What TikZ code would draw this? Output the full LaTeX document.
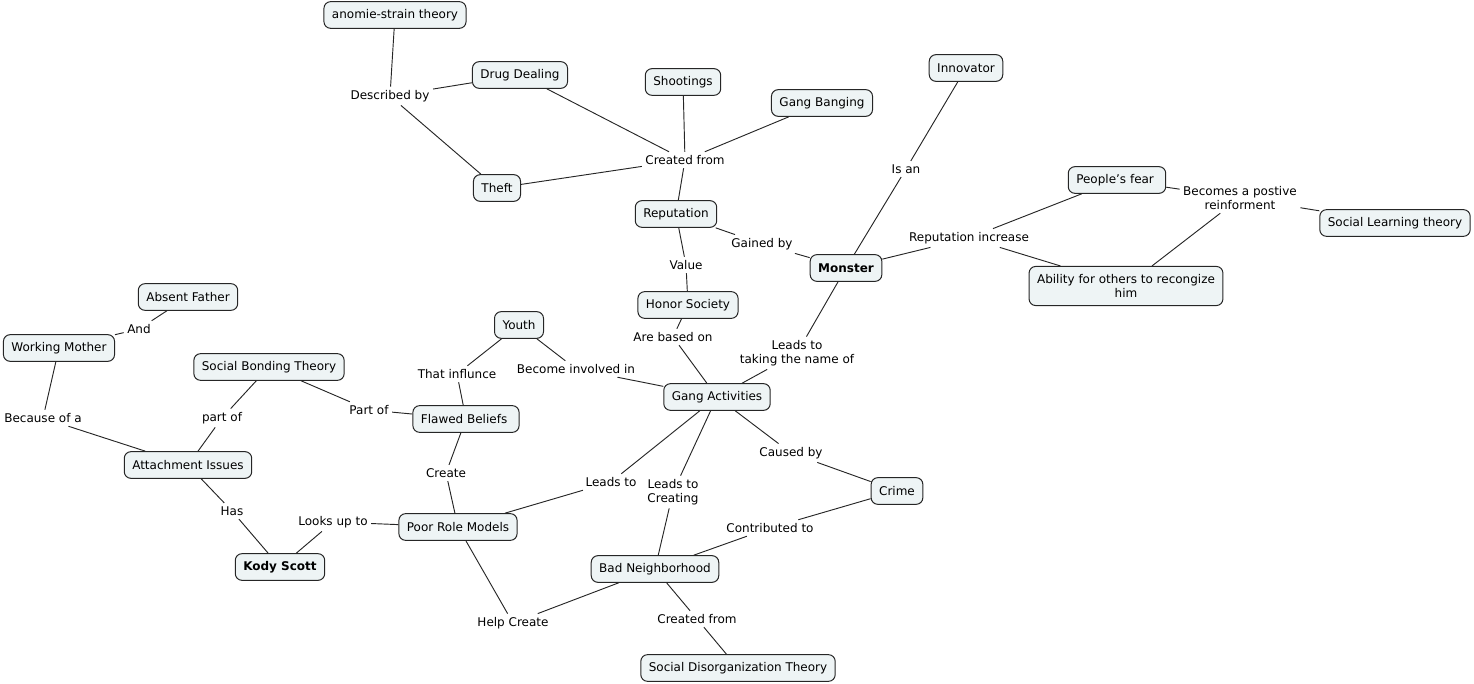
\documentclass[tikz,border=0pt]{standalone}
\usepackage{fontspec}
\setmainfont{DejaVu Sans}
\definecolor{cfill}{RGB}{238,244,245}

\tikzstyle{concept}=[draw=black!85, fill=cfill, rounded corners=5pt, line width=0.75pt, inner xsep=6pt, inner ysep=4.5pt, minimum height=20pt, align=center]
\tikzstyle{phrase}=[inner sep=2.5pt, align=center]
\tikzstyle{link}=[black!85, line width=0.7pt]

\begin{document}
\begin{tikzpicture}[x=0.75pt, y=-0.75pt, font=\fontsize{9}{10.5}\selectfont]
      \useasboundingbox (0,-1) rectangle (1474,683);

      % concepts
      \node[concept] (anomie) at (395, 14) {anomie-strain theory};
      \node[concept] (drug) at (520, 74) {Drug Dealing};
      \node[concept] (shoot) at (683, 81) {Shootings};
      \node[concept] (bang) at (822, 102) {Gang Banging};
      \node[concept] (innov) at (966, 67) {Innovator};
      \node[concept] (theft) at (497, 187) {Theft};
      \node[concept] (rep) at (676, 213) {Reputation};
      \node[concept] (fear) at (1117, 179) {People{\char"0027}s fear\ };
      \node[concept] (slt) at (1395, 222) {Social Learning theory};
      \node[concept, font=\fontsize{9}{10.5}\selectfont\bfseries] (monster) at (846, 267) {Monster};
      \node[concept, inner ysep=6pt] (ability) at (1126, 285) {Ability for others to recongize\\him};
      \node[concept] (father) at (188, 296) {Absent Father};
      \node[concept] (honor) at (688, 304) {Honor Society};
      \node[concept] (youth) at (519, 324) {Youth};
      \node[concept] (mother) at (59, 347) {Working Mother};
      \node[concept] (sbt) at (269, 366) {Social Bonding Theory};
      \node[concept] (flawed) at (466, 418) {Flawed Beliefs\ };
      \node[concept] (gang) at (717, 396) {Gang Activities};
      \node[concept] (attach) at (188, 464) {Attachment Issues};
      \node[concept] (crime) at (897, 490) {Crime};
      \node[concept] (poor) at (458, 526) {Poor Role Models};
      \node[concept, font=\fontsize{9}{10.5}\selectfont\bfseries] (kody) at (280, 566) {Kody Scott};
      \node[concept] (bad) at (655, 568) {Bad Neighborhood};
      \node[concept] (sdt) at (738, 667) {Social Disorganization Theory};

      % linking phrases
      \node[phrase] (describ) at (390, 95) {Described by};
      \node[phrase] (created1) at (685, 159) {Created from};
      \node[phrase] (gained) at (762, 243) {Gained by};
      \node[phrase] (value) at (686, 264) {Value};
      \node[phrase] (isan) at (906, 168) {Is an};
      \node[phrase] (repinc) at (969, 237) {Reputation increase};
      \node[phrase] (becomes) at (1240, 197) {Becomes a postive\\reinforment};
      \node[phrase] (and) at (139, 328) {And};
      \node[phrase] (based) at (673, 336) {Are based on};
      \node[phrase] (taking) at (797, 352) {Leads to\\taking the name of};
      \node[phrase] (influ) at (457, 373) {That influnce};
      \node[phrase] (involved) at (576, 368) {Become involved in};
      \node[phrase] (because) at (43, 417) {Because of a};
      \node[phrase] (partof1) at (222, 417) {part of};
      \node[phrase] (partof2) at (369, 409) {Part of};
      \node[phrase] (create) at (446, 472) {Create};
      \node[phrase] (caused) at (791, 452) {Caused by};
      \node[phrase] (leads) at (611, 481) {Leads to};
      \node[phrase] (creating) at (673, 491) {Leads to\\Creating};
      \node[phrase] (has) at (232, 510) {Has};
      \node[phrase] (looks) at (333, 521) {Looks up to};
      \node[phrase] (contrib) at (770, 527) {Contributed to};
      \node[phrase] (help) at (513, 622) {Help Create};
      \node[phrase] (created2) at (697, 618) {Created from};

      % connectors
      \draw[link] (anomie) to (describ);
      \draw[link] (describ) to (drug);
      \draw[link] (describ) to (theft);
      \draw[link] (drug) to (created1);
      \draw[link] (shoot) to (created1);
      \draw[link] (bang) to (created1);
      \draw[link] (theft) to (created1);
      \draw[link] (created1) to (rep);
      \draw[link] (rep) to (gained);
      \draw[link] (gained) to (monster);
      \draw[link] (rep) to (value);
      \draw[link] (value) to (honor);
      \draw[link] (innov) to (isan);
      \draw[link] (isan) to (monster);
      \draw[link] (monster) to (repinc);
      \draw[link] (repinc) to (fear);
      \draw[link] (repinc) to (ability);
      \draw[link] (fear) to (becomes);
      \draw[link] (ability) to (becomes);
      \draw[link] (becomes) to (slt);
      \draw[link] (father) to (and);
      \draw[link] (and) to (mother);
      \draw[link] (mother) to (because);
      \draw[link] (because) to (attach);
      \draw[link] (sbt) to (partof1);
      \draw[link] (partof1) to (attach);
      \draw[link] (sbt) to (partof2);
      \draw[link] (partof2) to (flawed);
      \draw[link] (youth) to (influ);
      \draw[link] (influ) to (flawed);
      \draw[link] (youth) to (involved);
      \draw[link] (involved) to (gang);
      \draw[link] (honor) to (based);
      \draw[link] (based) to (gang);
      \draw[link] (monster) to (taking);
      \draw[link] (taking) to (gang);
      \draw[link] (flawed) to (create);
      \draw[link] (create) to (poor);
      \draw[link] (gang) to (leads);
      \draw[link] (leads) to (poor);
      \draw[link] (gang) to (creating);
      \draw[link] (creating) to (bad);
      \draw[link] (gang) to (caused);
      \draw[link] (caused) to (crime);
      \draw[link] (crime) to (contrib);
      \draw[link] (contrib) to (bad);
      \draw[link] (attach) to (has);
      \draw[link] (has) to (kody);
      \draw[link] (kody) to (looks);
      \draw[link] (looks) to (poor);
      \draw[link] (poor) to (help);
      \draw[link] (help) to (bad);
      \draw[link] (bad) to (created2);
      \draw[link] (created2) to (sdt);
    \end{tikzpicture}
\end{document}
